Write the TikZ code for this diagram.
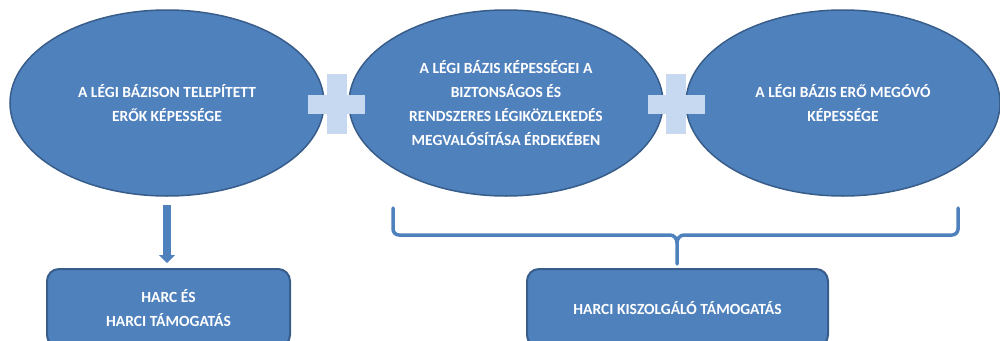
\documentclass[tikz,border=0pt]{standalone}
\usepackage{fontspec}
\setmainfont{Carlito}
\usetikzlibrary{shapes.geometric,arrows.meta}
\definecolor{ofblue}{HTML}{4F81BD}
\definecolor{ofdark}{HTML}{385D8A}
\definecolor{oflight}{HTML}{C6D9F1}
\tikzset{
  ell/.style={ellipse, draw=ofdark, line width=1.5pt, fill=ofblue, minimum width=314pt, minimum height=186pt, inner sep=0pt, align=center, text=white, font=\fontsize{15.5}{24}\selectfont\bfseries},
  rbox/.style={rectangle, rounded corners=12pt, draw=ofdark, line width=2pt, fill=ofblue, inner sep=0pt, align=center, text=white, font=\fontsize{15.5}{24}\selectfont\bfseries},
  fatarrow/.style={draw=ofblue, line width=8pt, -{Triangle[width=16pt,length=8pt]}},
  bracestyle/.style={draw=ofblue, line width=3.5pt, line cap=round},
  plusfill/.style={fill=oflight}
}
\begin{document}
\begin{tikzpicture}[x=1pt,y=-1pt]
\useasboundingbox (0,0) rectangle (1000,340);
\clip (0,0) rectangle (1000,340);
% ellipses
\node[ell] (e1) at (167,103) {A LÉGI BÁZISON TELEPÍTETT\\ERŐK KÉPESSÉGE};
\node[ell] (e2) at (506,103) {A LÉGI BÁZIS KÉPESSÉGEI A\\BIZTONSÁGOS ÉS\\RENDSZERES LÉGIKÖZLEKEDÉS\\MEGVALÓSÍTÁSA ÉRDEKÉBEN};
\node[ell] (e3) at (843,103) {A LÉGI BÁZIS ERŐ MEGÓVÓ\\KÉPESSÉGE};
% plus signs
\coordinate (p1) at (336.5,104);
\coordinate (p2) at (676,104);
\foreach \p in {p1,p2}{
  \fill[plusfill] ([shift={(-28.5,-9.5)}]\p) rectangle ([shift={(28.5,9.5)}]\p);
  \fill[plusfill] ([shift={(-10,-30)}]\p) rectangle ([shift={(10,30)}]\p);
}
% boxes
\node[rbox, minimum width=243pt, minimum height=78pt] (b1) at (168.5,308) {HARC ÉS\\HARCI TÁMOGATÁS};
\node[rbox, minimum width=301pt, minimum height=78pt] (b2) at (677.5,308) {HARCI KISZOLGÁLÓ TÁMOGATÁS};
% arrow
\draw[fatarrow, shorten <=8pt, shorten >=5pt] (e1.south) -- (e1.south |- b1.north);
% brace
\coordinate (bl) at (393,208);
\coordinate (br) at (958,208);
\coordinate (bt) at (677,264);
\draw[bracestyle] (bl) -- (393,229) to[out=-90,in=180] (399,235) -- (670,235) to[out=0,in=90] (bt |- 0,243) -- (bt);
\draw[bracestyle] (bt |- 0,243) to[out=90,in=180] (684,235) -- (952,235) to[out=0,in=-90] (958,229) -- (br);
\end{tikzpicture}
\end{document}
